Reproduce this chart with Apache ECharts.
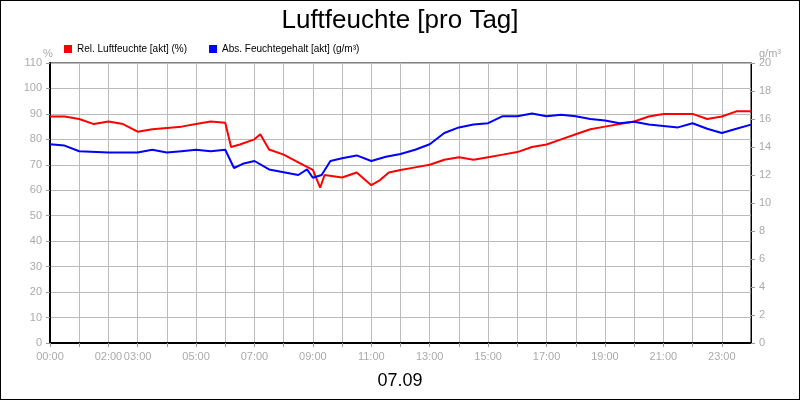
<!DOCTYPE html><html><head><meta charset="utf-8"><script src="https://cdn.jsdelivr.net/npm/echarts@6/dist/echarts.min.js"></script>
<style>html,body{margin:0;padding:0;background:#fff}#c{width:798px;height:398px;border:1px solid #000}</style></head><body><div id="c"></div><script>
const hours=[0,0.5,1,1.5,2,2.5,3,3.5,4,4.5,5,5.5,6,6.2,6.5,7,7.2,7.5,8,8.5,9,9.25,9.4,10,10.5,11,11.3,11.6,12,12.5,13,13.5,14,14.5,15,15.5,16,16.5,17,17.5,18,18.5,19,19.5,20,20.5,21,21.5,22,22.5,23,23.5,24];
const relHum=[89,89,88,86,87,86,83,84,84.5,85,86,87,86.5,77,78,80,82,76,74,71,68,61,66,65,67,62,64,67,68,69,70,72,73,72,73,74,75,77,78,80,82,84,85,86,87,89,90,90,90,88,89,91,91];
const absHours=[0,0.5,1,2,3,3.5,4,4.5,5,5.5,6,6.3,6.6,7,7.5,8,8.5,8.8,9,9.3,9.6,10,10.5,11,11.5,12,12.5,13,13.5,14,14.5,15,15.5,16,16.5,17,17.5,18,18.5,19,19.5,20,20.5,21,21.5,22,22.5,23,23.5,24];
const absHum=[14.2,14.1,13.7,13.6,13.6,13.8,13.6,13.7,13.8,13.7,13.8,12.5,12.8,13.0,12.4,12.2,12.0,12.4,11.8,12.0,13.0,13.2,13.4,13.0,13.3,13.5,13.8,14.2,15.0,15.4,15.6,15.7,16.2,16.2,16.4,16.2,16.3,16.2,16.0,15.9,15.7,15.8,15.6,15.5,15.4,15.7,15.3,15.0,15.3,15.6];
const tickLabels={0:'00:00',2:'02:00',3:'03:00',5:'05:00',7:'07:00',9:'09:00',11:'11:00',13:'13:00',15:'15:00',17:'17:00',19:'19:00',21:'21:00',23:'23:00'};
const ax={color:'#aaa',fontSize:11,fontFamily:'Arial, Liberation Sans'};
const ch=echarts.init(document.getElementById('c'));
ch.setOption({animation:false,
title:[{text:'Luftfeuchte [pro Tag]',left:'center',top:2,textStyle:{fontSize:26,fontWeight:'normal',color:'#000',fontFamily:'Arial, Liberation Sans'}},
{text:'07.09',left:'center',top:366,textStyle:{fontSize:18,fontWeight:'normal',color:'#000',fontFamily:'Arial, Liberation Sans'}},
{text:'%',left:37,top:42,textStyle:{...ax,fontWeight:'normal'}},
{text:'g/m³',left:753,top:42,textStyle:{...ax,fontWeight:'normal'}}],
legend:{left:58,top:38,itemWidth:8,itemHeight:8,itemGap:22,icon:'rect',textStyle:{fontSize:10,color:'#000',fontFamily:'Arial, Liberation Sans'},data:['Rel. Luftfeuchte [akt] (%)','Abs. Feuchtegehalt [akt] (g/m³)']},
grid:{left:49,right:48,top:62,bottom:56,show:true,borderColor:'#000',borderWidth:1},
xAxis:{type:'value',min:0,max:24,interval:1,axisLine:{lineStyle:{color:'#000',width:2}},axisTick:{lineStyle:{color:'#999'},length:4},splitLine:{lineStyle:{color:'#bbb'}},
axisLabel:{...ax,showMaxLabel:false,formatter:v=>tickLabels[v]||''}},
yAxis:[{type:'value',min:0,max:110,interval:10,axisLine:{show:true,lineStyle:{color:'#000',width:2}},axisTick:{show:true,length:4,lineStyle:{color:'#999'}},splitLine:{lineStyle:{color:'#bbb'}},axisLabel:ax},
{type:'value',min:0,max:20,interval:2,position:'right',axisLine:{show:true,lineStyle:{color:'#000'}},axisTick:{show:true,length:4,lineStyle:{color:'#999'}},splitLine:{show:false},axisLabel:ax}],
series:[{name:'Rel. Luftfeuchte [akt] (%)',type:'line',showSymbol:false,color:'#ff0000',lineStyle:{width:2},data:hours.map((h,i)=>[h,relHum[i]])},
{name:'Abs. Feuchtegehalt [akt] (g/m³)',type:'line',yAxisIndex:1,showSymbol:false,color:'#0000ff',lineStyle:{width:2},data:absHours.map((h,i)=>[h,absHum[i]])}]
});
</script></body></html>
